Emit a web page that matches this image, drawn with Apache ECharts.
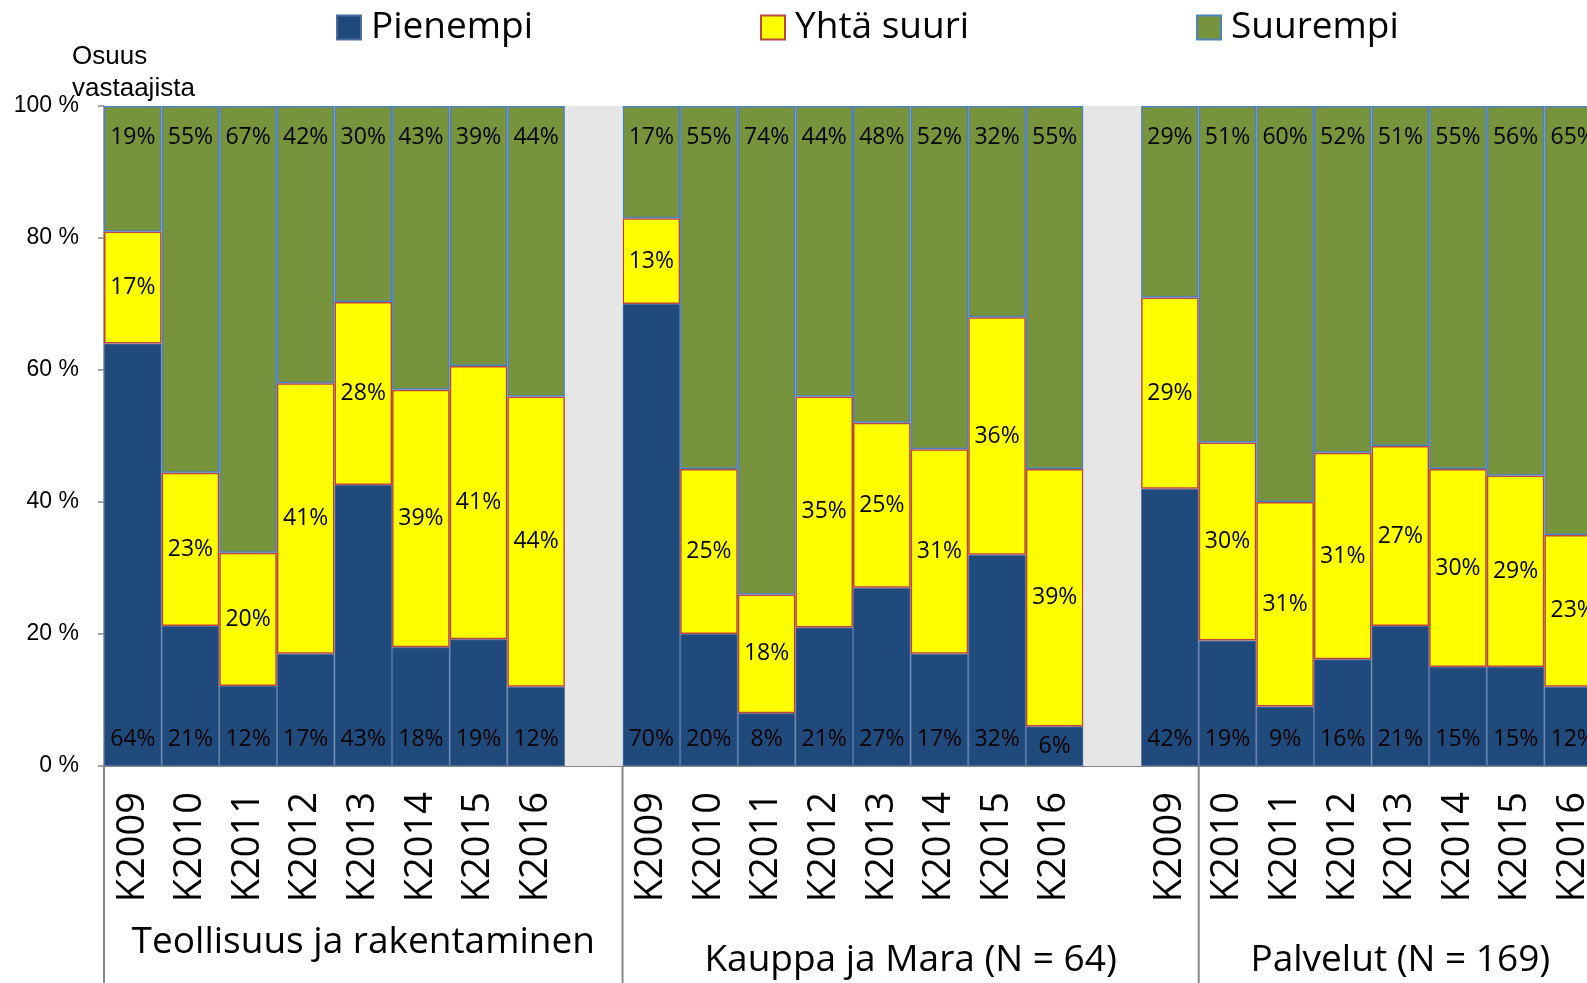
<!DOCTYPE html>
<html>
<head>
<meta charset="utf-8">
<script src="https://cdn.jsdelivr.net/npm/echarts@6.0.0/dist/echarts.min.js"></script>
<style>
html, body { margin: 0; padding: 0; background: #fff; }
#main { width: 1587px; height: 983px; }
</style>
</head>
<body>
<div id="main"></div>
<script>
// ryhmät ja vuodet
var groups = ['Teollisuus ja rakentaminen', 'Kauppa ja Mara (N = 64)', 'Palvelut (N = 169)'];
var years = ['K2009', 'K2010', 'K2011', 'K2012', 'K2013', 'K2014', 'K2015', 'K2016'];

// osuudet (%) ryhmittäin: Teollisuus, Kauppa, Palvelut
var pienempi = [64, 21, 12, 17, 43, 18, 19, 12,
                70, 20, 8, 21, 27, 17, 32, 6,
                42, 19, 9, 16, 21, 15, 15, 12];
var yhtaSuuri = [17, 23, 20, 41, 28, 39, 41, 44,
                 13, 25, 18, 35, 25, 31, 36, 39,
                 29, 30, 31, 31, 27, 30, 29, 23];
var suurempi = [19, 55, 67, 42, 30, 43, 39, 44,
                17, 55, 74, 44, 48, 52, 32, 55,
                29, 51, 60, 52, 51, 55, 56, 65];

var yTicks = [0, 20, 40, 60, 80, 100];

var font = "'Open Sans', 'Noto Sans', sans-serif";
var arial = "'Liberation Sans', Arial, sans-serif";

// rakennetaan kategoriat (ryhmien väliin tyhjä sarake)
var cats = [];
var sP = [], sY = [], sS = [], sGap = [];
var lP = [], lY = [], lS = [];
for (var g = 0; g < groups.length; g++) {
	for (var i = 0; i < years.length; i++) {
		var k = g * years.length + i;
		var sum = pienempi[k] + yhtaSuuri[k] + suurempi[k];
		var vP = pienempi[k] / sum * 100;
		cats.push(years[i]);
		// 100 % pinottu: normalisoidaan summaan
		// matala pylväs -> otsikko keskelle
		sP.push(vP < 7 ? { value: vP, label: { position: 'inside' } } : vP);
		sY.push(yhtaSuuri[k] / sum * 100);
		sS.push(suurempi[k] / sum * 100);
		sGap.push('-');
		lP.push(pienempi[k] + '%');
		lY.push(yhtaSuuri[k] + '%');
		lS.push(suurempi[k] + '%');
	}
	if (g < groups.length - 1) {
		cats.push(g === 0 ? '' : ' ');
		sP.push('-'); sY.push('-'); sS.push('-');
		sGap.push(100);
		lP.push(''); lY.push(''); lS.push('');
	}
}

var chart = echarts.init(document.getElementById('main'));

function legendFor(name, left) {
	return {
		data: [name],
		left: left,
		top: 9,
		padding: 0,
		icon: 'rect',
		itemWidth: 24,
		itemHeight: 24,
		selectedMode: false,
		textStyle: {
			fontSize: 37,
			fontFamily: font,
			color: '#000',
			padding: [0, 0, 0, 5]
		}
	};
}

var labelBase = {
	show: true,
	fontSize: 23,
	fontFamily: font,
	color: '#000'
};

var gridW = 1498;

var option = {
	animation: false,
	backgroundColor: '#fff',
	title: {
		text: 'Osuus\nvastaajista',
		left: 72,
		top: 41,
		padding: 0,
		textStyle: {
			fontSize: 26,
			fontWeight: 'normal',
			fontFamily: arial,
			color: '#000',
			lineHeight: 32
		}
	},
	legend: [
		legendFor('Pienempi', 336),
		legendFor('Yhtä suuri', 760),
		legendFor('Suurempi', 1196)
	],
	grid: {
		left: 104,
		top: 106,
		width: gridW,
		height: 660,
		containLabel: false,
		outerBoundsMode: 'none'
	},
	xAxis: {
		type: 'category',
		data: cats,
		axisLine: { lineStyle: { color: '#868686', width: 2 } },
		axisTick: {
			interval: 0,
			length: 135,
			lineStyle: { color: '#868686', width: 1.5 }
		},
		axisLabel: {
			interval: 0,
			rotate: 90,
			margin: 26,
			fontSize: 38,
			fontFamily: font,
			color: '#000'
		}
	},
	yAxis: {
		type: 'value',
		min: yTicks[0],
		max: yTicks[yTicks.length - 1],
		interval: 20,
		splitLine: { show: false },
		axisLine: { show: true, lineStyle: { color: '#868686', width: 1.5 } },
		axisTick: { show: true, length: 6, lineStyle: { color: '#868686', width: 1.5 } },
		axisLabel: {
			formatter: '{value} %',
			margin: 25,
			fontSize: 23,
			fontFamily: arial,
			color: '#000'
		}
	},
	series: [
		{
			name: 'Pienempi',
			type: 'bar',
			stack: 'total',
			barCategoryGap: 0,
			data: sP,
			itemStyle: { color: '#214a7c', borderColor: '#4a6c9b', borderWidth: 1 },
			label: Object.assign({}, labelBase, {
				position: 'insideBottom',
				distance: 15,
				formatter: function (p) { return lP[p.dataIndex]; }
			})
		},
		{
			name: 'Yhtä suuri',
			type: 'bar',
			stack: 'total',
			barCategoryGap: 0,
			data: sY,
			itemStyle: { color: '#ffff00', borderColor: '#b9473f', borderWidth: 1.5 },
			label: Object.assign({}, labelBase, {
				position: 'inside',
				formatter: function (p) { return lY[p.dataIndex]; }
			})
		},
		{
			name: 'Suurempi',
			type: 'bar',
			stack: 'total',
			barCategoryGap: 0,
			data: sS,
			itemStyle: { color: '#77933c', borderColor: '#4f81bd', borderWidth: 1.5 },
			label: Object.assign({}, labelBase, {
				position: 'insideTop',
				distance: 20,
				formatter: function (p) { return lS[p.dataIndex]; }
			})
		},
		{
			name: 'gap',
			type: 'bar',
			stack: 'total',
			barCategoryGap: 0,
			silent: true,
			data: sGap,
			itemStyle: { color: '#e6e6e6' }
		}
	]
};

chart.setOption(option);

// ryhmien rajat ja nimet alareunaan akselin mukaan
var bw = gridW / cats.length;
function edge(idx) {
	return chart.convertToPixel({ xAxisIndex: 0 }, 0) - bw / 2 + idx * bw;
}
var axisY = chart.convertToPixel({ yAxisIndex: 0 }, 0);
// Excelin ryhmäotsikoiden rajat
var spans = [[0, 9], [9, 19], [19, 26]];
var labelY = [942, 960, 960];
var gr = [];
for (var s = 0; s < spans.length; s++) {
	var x0 = edge(spans[s][0]);
	gr.push({
		type: 'line',
		shape: { x1: x0, y1: axisY, x2: x0, y2: 983 },
		style: { stroke: '#868686', lineWidth: 2 }
	});
	gr.push({
		type: 'text',
		x: (x0 + edge(spans[s][1])) / 2,
		y: labelY[s],
		style: {
			text: groups[s],
			fontSize: 37,
			fontFamily: font,
			fill: '#000',
			align: 'center',
			verticalAlign: 'middle'
		}
	});
}
// irrallinen teksti kuvassa
gr.push({
	type: 'text',
	x: 843,
	y: 698,
	style: { text: '30', fontSize: 15, fontFamily: font, fill: '#000', align: 'center', verticalAlign: 'middle' }
});
chart.setOption({ graphic: gr });
</script>
</body>
</html>
